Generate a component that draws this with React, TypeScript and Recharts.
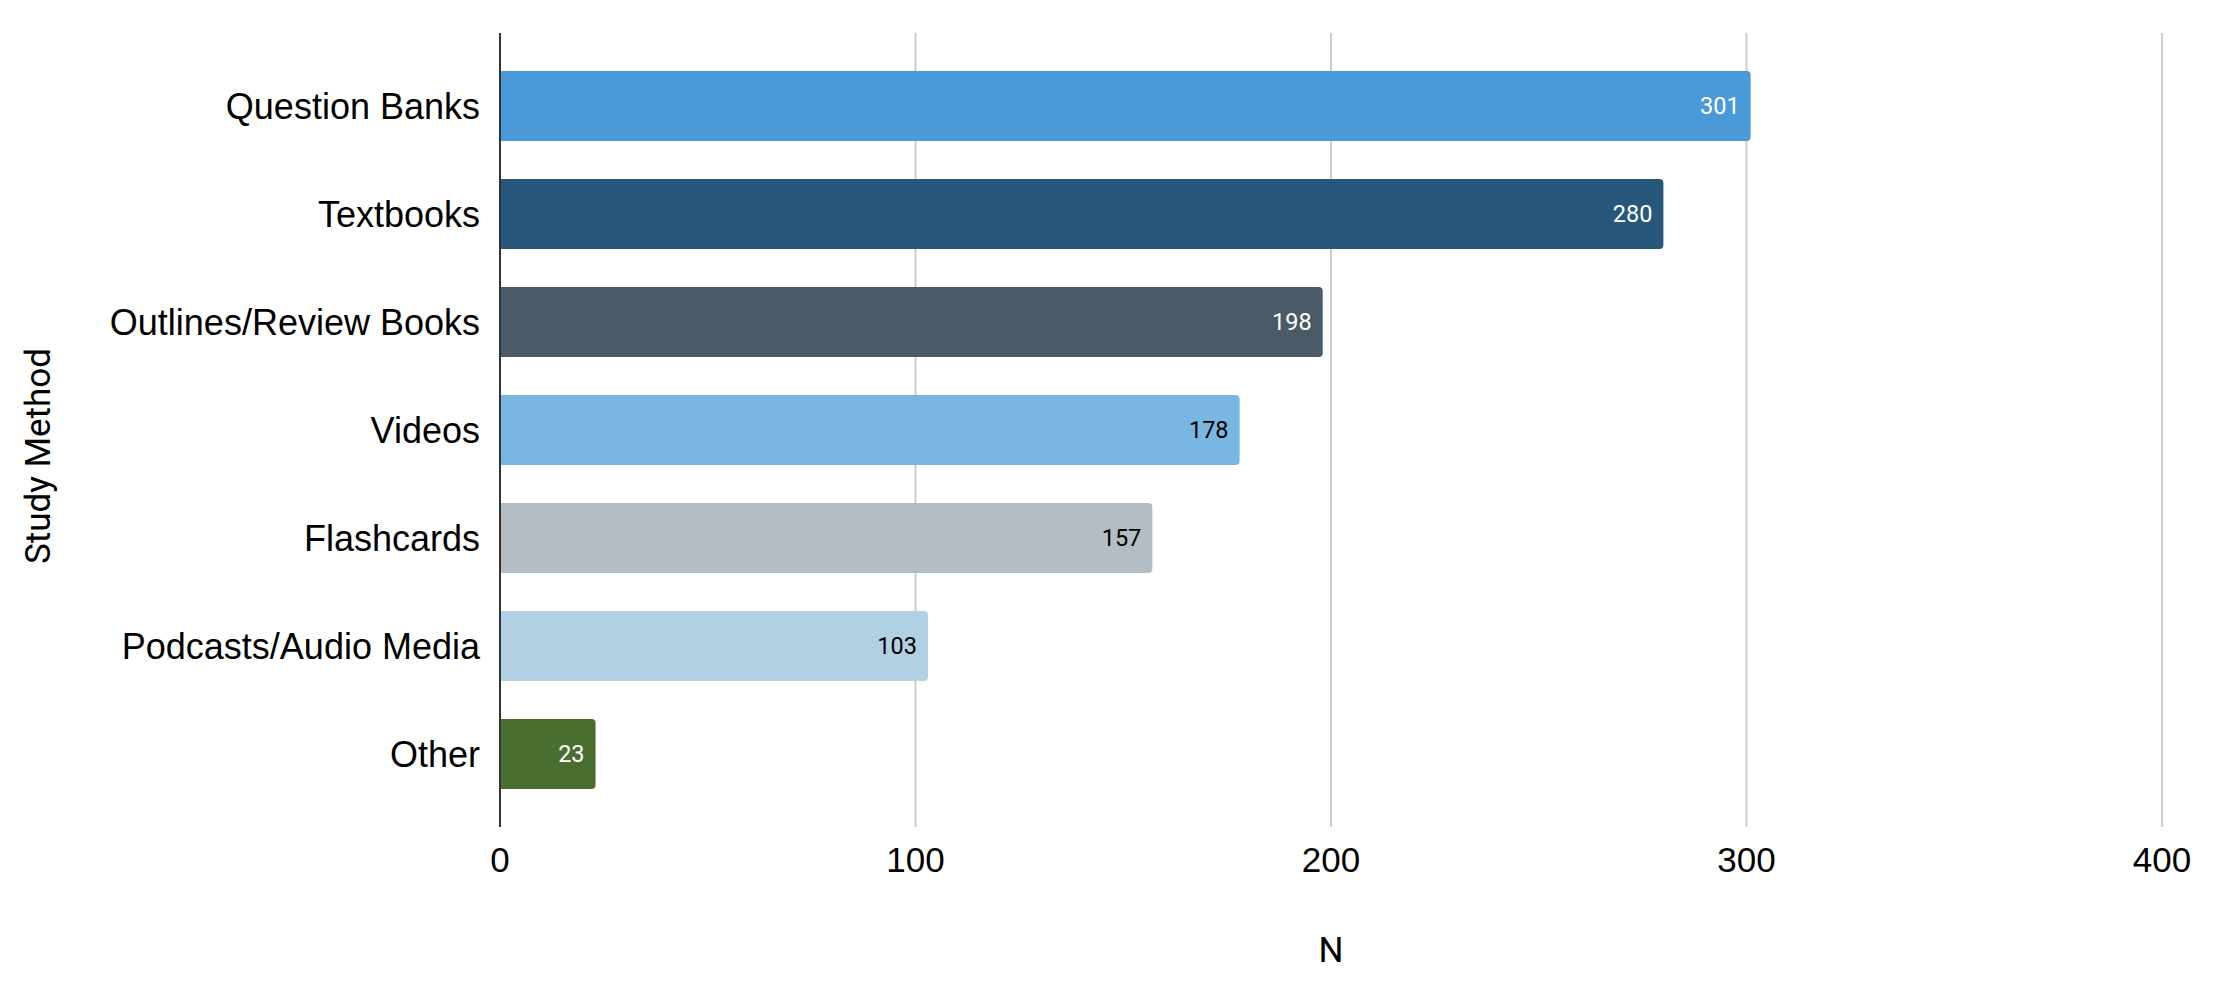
import React from "react"
import { BarChart, Bar, XAxis, YAxis, CartesianGrid, Cell, LabelList, Label } from "recharts"

const methods = [
    "Question Banks",
    "Textbooks",
    "Outlines/Review Books",
    "Videos",
    "Flashcards",
    "Podcasts/Audio Media",
    "Other",
]
const counts = [301, 280, 198, 178, 157, 103, 23]
const barColors = ["#4a9ad9", "#27587b", "#4a5a66", "#7ab6e2", "#b4bcc4", "#b1d0e4", "#4a6e2f"]
const labelColors = ["#ffffff", "#ffffff", "#ffffff", "#000000", "#000000", "#000000", "#ffffff"]
const xTicks = [0, 100, 200, 300, 400]

const data = methods.map((m, i) => ({ method: m, n: counts[i] }))

const tickFont = "Arial, 'Liberation Sans', Helvetica, sans-serif"
const titleFont = "Roboto, 'Noto Sans', sans-serif"

function ValueLabel(props: any) {
    const { x, y, width, height, value, index } = props
    return (
        <text
            x={x + width - 11}
            y={y + height / 2}
            textAnchor="end"
            dominantBaseline="central"
            fill={labelColors[index]}
            fontFamily={titleFont}
            fontSize={23.5}
        >
            {value}
        </text>
    )
}

export default function App() {
    return (
        <div style={{ background: "#fff" }}>
            <style>{"body{margin:0}"}</style>
            <BarChart
                width={2214}
                height={991}
                data={data}
                layout="vertical"
                margin={{ top: 33, right: 52, bottom: 0, left: 0 }}
                barSize={70}
            >
                <CartesianGrid horizontal={false} stroke="#cccccc" strokeWidth={2} />
                <XAxis
                    type="number"
                    domain={[0, 400]}
                    ticks={xTicks}
                    height={164}
                    axisLine={false}
                    tickLine={false}
                    tickMargin={14}
                    tick={{ fill: "#000", fontSize: 35, fontFamily: tickFont }}
                >
                    <Label
                        content={({ viewBox }: any) => (
                            <text
                                x={viewBox.x + viewBox.width / 2}
                                y={950}
                                textAnchor="middle"
                                dominantBaseline="central"
                                fontFamily={titleFont}
                                fontSize={35}
                                fill="#000"
                            >
                                N
                            </text>
                        )}
                    />
                </XAxis>
                <YAxis
                    type="category"
                    dataKey="method"
                    width={500}
                    padding={{ top: 19, bottom: 19 }}
                    axisLine={{ stroke: "#333", strokeWidth: 2 }}
                    tickLine={false}
                    tickMargin={14}
                    tick={{ fill: "#000", fontSize: 36, fontFamily: tickFont }}
                >
                    <Label
                        content={({ viewBox }: any) => {
                            const cx = 38
                            const cy = viewBox.y + viewBox.height / 2 + 26
                            return (
                                <text
                                    x={cx}
                                    y={cy}
                                    transform={`rotate(-90 ${cx} ${cy})`}
                                    textAnchor="middle"
                                    dominantBaseline="central"
                                    fontFamily={titleFont}
                                    fontSize={35}
                                    fill="#000"
                                >
                                    Study Method
                                </text>
                            )
                        }}
                    />
                </YAxis>
                <Bar dataKey="n" isAnimationActive={false} radius={[0, 4, 4, 0]}>
                    {data.map((d, i) => (
                        <Cell key={d.method} fill={barColors[i]} />
                    ))}
                    <LabelList dataKey="n" content={<ValueLabel />} />
                </Bar>
            </BarChart>
        </div>
    )
}
